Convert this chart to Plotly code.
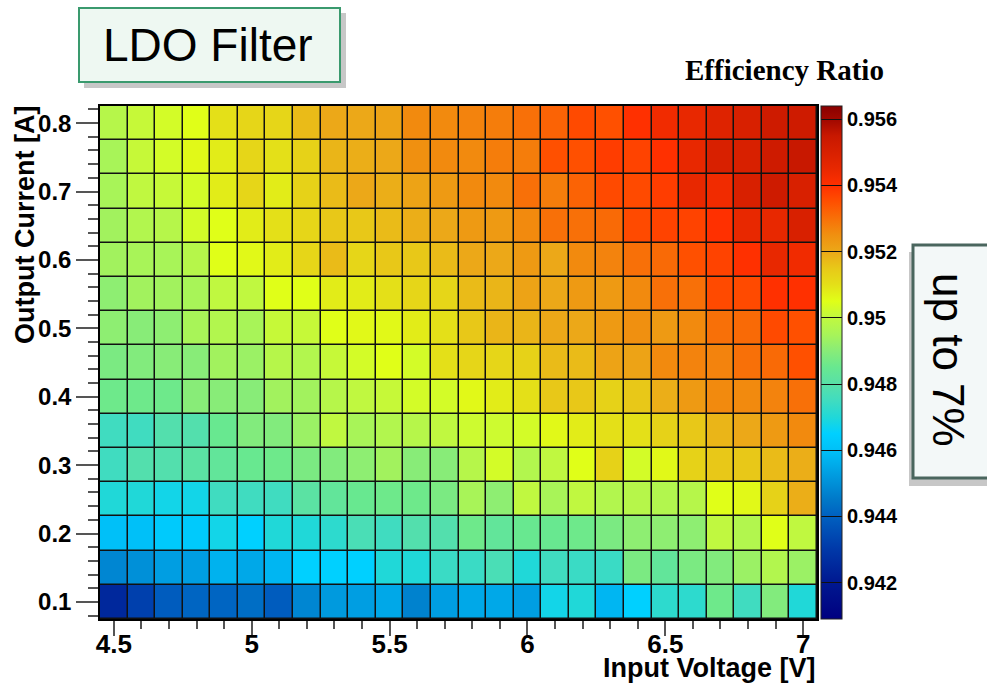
import plotly.graph_objects as go

# ---------------- data ----------------
voltages = [4.5, 4.6, 4.7, 4.8, 4.9, 5.0, 5.1, 5.2, 5.3, 5.4, 5.5, 5.6, 5.7,
            5.8, 5.9, 6.0, 6.1, 6.2, 6.3, 6.4, 6.5, 6.6, 6.7, 6.8, 6.9, 7.0]
currents = [0.10, 0.15, 0.20, 0.25, 0.30, 0.35, 0.40, 0.45, 0.50, 0.55, 0.60,
            0.65, 0.70, 0.75, 0.80]

eff_010 = [0.9425,0.9432,0.9439,0.9441,0.9441,0.9443,0.9439,0.9448,0.9452,0.9453,0.9455,0.9447,0.9453,0.9455,0.9455,0.9453,0.9468,0.9470,0.9458,0.9465,0.9472,0.9472,0.9486,0.9475,0.9489,0.9470]
eff_015 = [0.9448,0.9450,0.9453,0.9453,0.9457,0.9455,0.9458,0.9465,0.9465,0.9465,0.9470,0.9470,0.9474,0.9474,0.9477,0.9470,0.9475,0.9474,0.9474,0.9488,0.9483,0.9488,0.9489,0.9493,0.9497,0.9493]
eff_020 = [0.9460,0.9460,0.9463,0.9463,0.9468,0.9465,0.9470,0.9470,0.9472,0.9477,0.9475,0.9479,0.9479,0.9486,0.9483,0.9485,0.9485,0.9486,0.9488,0.9491,0.9491,0.9491,0.9500,0.9497,0.9505,0.9500]
eff_025 = [0.9470,0.9470,0.9468,0.9468,0.9475,0.9475,0.9475,0.9481,0.9483,0.9485,0.9486,0.9486,0.9488,0.9495,0.9491,0.9500,0.9495,0.9500,0.9497,0.9498,0.9497,0.9498,0.9505,0.9506,0.9513,0.9519]
eff_030 = [0.9475,0.9479,0.9479,0.9481,0.9483,0.9485,0.9486,0.9488,0.9489,0.9491,0.9494,0.9490,0.9490,0.9498,0.9503,0.9497,0.9500,0.9505,0.9513,0.9503,0.9506,0.9513,0.9515,0.9515,0.9517,0.9519]
eff_035 = [0.9475,0.9475,0.9479,0.9479,0.9485,0.9489,0.9489,0.9493,0.9500,0.9495,0.9497,0.9498,0.9500,0.9502,0.9502,0.9503,0.9506,0.9508,0.9510,0.9510,0.9513,0.9515,0.9518,0.9520,0.9523,0.9526]
eff_040 = [0.9486,0.9486,0.9486,0.9490,0.9490,0.9490,0.9494,0.9494,0.9498,0.9500,0.9501,0.9503,0.9503,0.9506,0.9508,0.9510,0.9515,0.9515,0.9513,0.9515,0.9519,0.9523,0.9526,0.9526,0.9527,0.9530]
eff_045 = [0.9488,0.9489,0.9490,0.9490,0.9494,0.9493,0.9498,0.9497,0.9501,0.9503,0.9505,0.9503,0.9510,0.9512,0.9512,0.9513,0.9517,0.9517,0.9521,0.9521,0.9526,0.9527,0.9527,0.9530,0.9531,0.9535]
eff_050 = [0.9491,0.9490,0.9491,0.9495,0.9497,0.9495,0.9501,0.9501,0.9505,0.9506,0.9506,0.9508,0.9510,0.9515,0.9518,0.9518,0.9520,0.9520,0.9523,0.9525,0.9523,0.9526,0.9530,0.9531,0.9536,0.9535]
eff_055 = [0.9491,0.9494,0.9494,0.9495,0.9500,0.9500,0.9505,0.9505,0.9508,0.9508,0.9510,0.9512,0.9512,0.9517,0.9518,0.9521,0.9520,0.9523,0.9523,0.9526,0.9530,0.9530,0.9536,0.9536,0.9540,0.9540]
eff_060 = [0.9494,0.9495,0.9495,0.9498,0.9505,0.9506,0.9508,0.9512,0.9517,0.9512,0.9515,0.9515,0.9517,0.9520,0.9520,0.9523,0.9520,0.9526,0.9527,0.9530,0.9531,0.9535,0.9537,0.9540,0.9545,0.9543]
eff_065 = [0.9494,0.9497,0.9498,0.9503,0.9505,0.9508,0.9510,0.9512,0.9515,0.9515,0.9517,0.9519,0.9520,0.9523,0.9523,0.9526,0.9530,0.9530,0.9531,0.9536,0.9537,0.9537,0.9540,0.9545,0.9545,0.9550]
eff_070 = [0.9495,0.9500,0.9501,0.9503,0.9508,0.9512,0.9508,0.9513,0.9517,0.9520,0.9519,0.9521,0.9523,0.9526,0.9526,0.9530,0.9528,0.9532,0.9536,0.9536,0.9538,0.9545,0.9543,0.9550,0.9553,0.9550]
eff_075 = [0.9495,0.9501,0.9503,0.9506,0.9508,0.9512,0.9510,0.9513,0.9518,0.9519,0.9520,0.9525,0.9526,0.9526,0.9528,0.9528,0.9535,0.9535,0.9538,0.9537,0.9540,0.9545,0.9550,0.9550,0.9553,0.9555]
eff_080 = [0.9498,0.9501,0.9503,0.9505,0.9510,0.9512,0.9512,0.9517,0.9520,0.9520,0.9521,0.9526,0.9526,0.9527,0.9528,0.9530,0.9532,0.9536,0.9535,0.9540,0.9543,0.9545,0.9548,0.9550,0.9553,0.9553]

efficiency = [eff_010, eff_015, eff_020, eff_025, eff_030, eff_035, eff_040,
              eff_045, eff_050, eff_055, eff_060, eff_065, eff_070, eff_075, eff_080]

x_tick_vals = [4.5, 5.0, 5.5, 6.0, 6.5, 7.0]
x_tick_text = ["4.5", "5", "5.5", "6", "6.5", "7"]
y_tick_vals = [0.1, 0.2, 0.3, 0.4, 0.5, 0.6, 0.7, 0.8]
y_tick_text = ["0.1", "0.2", "0.3", "0.4", "0.5", "0.6", "0.7", "0.8"]
cb_tick_vals = [0.942, 0.944, 0.946, 0.948, 0.950, 0.952, 0.954, 0.956]
cb_tick_text = ["0.942", "0.944", "0.946", "0.948", "0.95", "0.952", "0.954", "0.956"]

# ---------------- style ----------------
ZMIN, ZMAX = 0.9409, 0.9564
stops = [
    (0.9409, "#000080"), (0.9420, "#001890"), (0.9430, "#0038a8"),
    (0.9440, "#0060c0"), (0.9445, "#0078c8"), (0.9450, "#0090d8"),
    (0.9455, "#00a8e8"), (0.9460, "#00c0f8"), (0.9465, "#00d0ff"),
    (0.9470, "#20d8d8"), (0.9475, "#40dcc0"), (0.9480, "#58e0a8"),
    (0.9485, "#68e890"), (0.9490, "#88ec78"), (0.9495, "#a8f458"),
    (0.9500, "#c0f840"), (0.9505, "#e0ff18"), (0.9510, "#e4e018"),
    (0.9515, "#e8c818"), (0.9520, "#eca818"), (0.9525, "#f09010"),
    (0.9530, "#f87008"), (0.9535, "#ff5000"), (0.9540, "#ff3000"),
    (0.9545, "#e82800"), (0.9550, "#d82000"), (0.9555, "#c81800"),
    (0.9560, "#a00800"), (0.9564, "#880000"),
]
colorscale = [[(v - ZMIN) / (ZMAX - ZMIN), c] for v, c in stops]
colorscale[0][0] = 0.0
colorscale[-1][0] = 1.0

W, H = 987, 683
ML, MR, MT, MB = 100, 170, 106, 64
PW, PH = W - ML - MR, H - MT - MB


def px(xp):
    return (xp - ML) / PW


def py(yp):
    return (H - MB - yp) / PH


fig = go.Figure()
fig.add_trace(go.Heatmap(
    x=voltages, y=currents, z=efficiency,
    zmin=ZMIN, zmax=ZMAX, colorscale=colorscale,
    xgap=1.5, ygap=1.5, hoverinfo="skip",
    colorbar=dict(
        x=px(821), xanchor="left", xpad=0,
        y=0.5, yanchor="middle", ypad=0,
        len=1, lenmode="fraction",
        thickness=21, thicknessmode="pixels",
        outlinewidth=1, outlinecolor="#222",
        tickmode="array", tickvals=cb_tick_vals, ticktext=cb_tick_text,
        ticks="inside", ticklen=21, tickwidth=1.2, tickcolor="#111",
        tickfont=dict(family="Liberation Sans", size=20, color="black", weight="bold"),
    ),
))

sans_bold = dict(family="Liberation Sans", color="black", weight="bold")

fig.update_xaxes(
    range=[4.45, 7.05], tickmode="array", tickvals=x_tick_vals, ticktext=x_tick_text,
    ticks="outside", ticklen=15, tickwidth=1.5, tickcolor="#555",
    ticklabelstandoff=-14,
    minor=dict(dtick=0.1, tick0=4.5, ticks="outside", ticklen=8, tickwidth=1.5, tickcolor="#555"),
    tickfont=dict(size=26, **sans_bold),
    showline=True, linecolor="black", linewidth=1.5, mirror=True,
    showgrid=False, zeroline=False,
)
fig.update_yaxes(
    range=[0.075, 0.825], tickmode="array", tickvals=y_tick_vals, ticktext=y_tick_text,
    ticks="outside", ticklen=22, tickwidth=1.5, tickcolor="#555",
    minor=dict(dtick=0.02, tick0=0.0, ticks="outside", ticklen=10, tickwidth=1.5, tickcolor="#555"),
    tickfont=dict(size=24, **sans_bold),
    showline=True, linecolor="black", linewidth=1.5, mirror=True,
    showgrid=False, zeroline=False,
)

shapes = [
    # LDO Filter box shadow + box
    dict(type="rect", xref="paper", yref="paper", x0=px(84), x1=px(346), y0=py(13), y1=py(88),
         fillcolor="rgba(0,0,0,0.22)", line=dict(width=0), layer="below"),
    dict(type="rect", xref="paper", yref="paper", x0=px(79), x1=px(340), y0=py(8), y1=py(82),
         fillcolor="#eef8f2", line=dict(color="#3a9a6e", width=2)),
    # up to 7% box shadow + box
    dict(type="rect", xref="paper", yref="paper", x0=px(909), x1=px(995), y0=py(252), y1=py(486),
         fillcolor="rgba(0,0,0,0.22)", line=dict(width=0), layer="below"),
    dict(type="rect", xref="paper", yref="paper", x0=px(913), x1=px(995), y0=py(245), y1=py(478),
         fillcolor="#f3f8f8", line=dict(color="#4a665e", width=3)),
]

annotations = [
    dict(text="LDO Filter", xref="paper", yref="paper", x=px(208), y=py(45),
         xanchor="center", yanchor="middle", showarrow=False,
         font=dict(family="Liberation Sans", size=46, color="black")),
    dict(text="Efficiency Ratio", xref="paper", yref="paper", x=px(784), y=py(70),
         xanchor="center", yanchor="middle", showarrow=False,
         font=dict(family="Liberation Serif", size=29, color="black", weight="bold")),
    dict(text="up to 7%", xref="paper", yref="paper", x=px(949), y=py(360),
         xanchor="center", yanchor="middle", showarrow=False, textangle=90,
         font=dict(family="Liberation Sans", size=44, color="black")),
    dict(text="Input Voltage [V]", xref="paper", yref="paper", x=px(817), y=py(668),
         xanchor="right", yanchor="middle", showarrow=False,
         font=dict(size=27, **sans_bold)),
    dict(text="Output Current [A]", xref="paper", yref="paper", x=px(25), y=py(104),
         xanchor="center", yanchor="top", showarrow=False, textangle=-90,
         font=dict(size=27, **sans_bold)),
]

fig.update_layout(
    width=W, height=H,
    margin=dict(l=ML, r=MR, t=MT, b=MB, pad=0),
    paper_bgcolor="white", plot_bgcolor="#111111",
    shapes=shapes, annotations=annotations,
    showlegend=False,
)

fig.write_html("out.html")
